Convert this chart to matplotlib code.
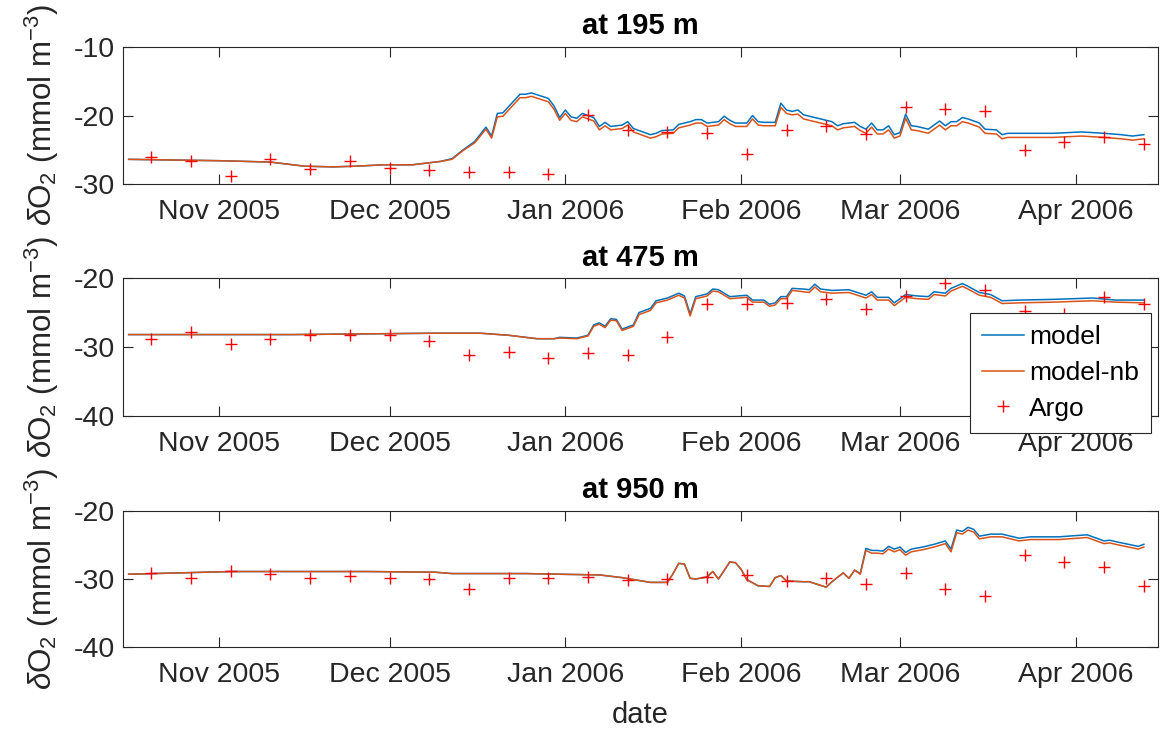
import numpy as np
import pandas as pd
import matplotlib
matplotlib.use("Agg")
import matplotlib.pyplot as plt
import matplotlib.dates as mdates

plt.rcParams['font.family'] = ['Liberation Sans', 'DejaVu Sans']
plt.rcParams['mathtext.fontset'] = 'custom'
plt.rcParams['mathtext.rm'] = 'Liberation Sans'
plt.rcParams['mathtext.it'] = 'Liberation Sans:italic'
plt.rcParams['axes.unicode_minus'] = False

# Argo float profiles (weekly)
argo_dates = ['2005-10-20', '2005-10-27', '2005-11-03', '2005-11-10', '2005-11-17', '2005-11-24',
              '2005-12-01', '2005-12-08', '2005-12-15', '2005-12-22', '2005-12-29', '2006-01-05',
              '2006-01-12', '2006-01-19', '2006-01-26', '2006-02-02', '2006-02-09', '2006-02-16',
              '2006-02-23', '2006-03-02', '2006-03-09', '2006-03-16', '2006-03-23', '2006-03-30',
              '2006-04-06', '2006-04-13']
argo_195 = [-26.1, -26.6, -28.8, -26.4, -27.8, -26.6, -27.6, -28.0, -28.3, -28.2, -28.5, -19.9,
            -22.1, -22.4, -22.5, -25.6, -22.1, -21.6, -22.7, -18.7, -19.1, -19.3, -25.0, -23.9,
            -23.2, -24.2]
argo_475 = [-28.9, -27.8, -29.6, -28.8, -28.3, -28.2, -28.3, -29.2, -31.2, -30.7, -31.6, -30.8,
            -31.2, -28.5, -23.8, -23.8, -23.6, -23.0, -24.5, -22.6, -20.7, -21.8, -24.8, -25.2,
            -22.7, -23.8]
argo_950 = [-29.1, -29.8, -28.8, -29.3, -29.9, -29.5, -29.8, -30.0, -31.4, -29.9, -29.8, -29.7,
            -30.2, -30.0, -29.7, -29.4, -30.3, -29.8, -30.7, -29.1, -31.5, -32.5, -26.5, -27.5,
            -28.3, -31.1]

# model output at 195 m
dates_195 = ['2005-10-16', '2005-11-01', '2005-11-10', '2005-11-16', '2005-11-21', '2005-11-25',
             '2005-11-30', '2005-12-05', '2005-12-08', '2005-12-10', '2005-12-12', '2005-12-14',
             '2005-12-16', '2005-12-18', '2005-12-19', '2005-12-20', '2005-12-21', '2005-12-22',
             '2005-12-24', '2005-12-25', '2005-12-26', '2005-12-29', '2005-12-30', '2005-12-31',
             '2006-01-01', '2006-01-02', '2006-01-03', '2006-01-04', '2006-01-06', '2006-01-07',
             '2006-01-08', '2006-01-09', '2006-01-11', '2006-01-12', '2006-01-13', '2006-01-16',
             '2006-01-17', '2006-01-18', '2006-01-20', '2006-01-21', '2006-01-23', '2006-01-24',
             '2006-01-25', '2006-01-26', '2006-01-28', '2006-01-29', '2006-01-30', '2006-01-31',
             '2006-02-02', '2006-02-03', '2006-02-04', '2006-02-05', '2006-02-07', '2006-02-08',
             '2006-02-09', '2006-02-10', '2006-02-11', '2006-02-12', '2006-02-14', '2006-02-16',
             '2006-02-17', '2006-02-18', '2006-02-19', '2006-02-21', '2006-02-22', '2006-02-23',
             '2006-02-24', '2006-02-25', '2006-02-26', '2006-02-27', '2006-02-28', '2006-03-01',
             '2006-03-02', '2006-03-03', '2006-03-04', '2006-03-06', '2006-03-07', '2006-03-08',
             '2006-03-09', '2006-03-10', '2006-03-11', '2006-03-12', '2006-03-13', '2006-03-15',
             '2006-03-16', '2006-03-18', '2006-03-19', '2006-03-20', '2006-03-28', '2006-04-02',
             '2006-04-06', '2006-04-09', '2006-04-11', '2006-04-13']
model_195 = [-26.4, -26.6, -26.8, -27.4, -27.5, -27.4, -27.2, -27.2, -26.9, -26.7, -26.3, -25.0,
             -23.8, -21.7, -23.0, -19.7, -19.6, -18.7, -16.9, -16.9, -16.7, -17.5, -18.6, -20.3,
             -19.2, -20.2, -20.4, -19.7, -20.3, -21.6, -21.0, -21.6, -21.4, -20.9, -21.9, -22.8,
             -22.6, -22.2, -22.1, -21.3, -20.9, -20.6, -20.6, -21.1, -20.9, -20.1, -20.7, -21.1,
             -21.1, -20.0, -20.9, -21.0, -21.0, -18.2, -19.2, -19.4, -19.2, -19.9, -20.3, -20.7,
             -20.9, -21.5, -21.2, -21.0, -21.6, -22.0, -21.1, -22.1, -22.1, -21.5, -22.8, -22.5,
             -19.8, -21.5, -21.6, -22.0, -21.4, -20.8, -21.5, -20.9, -20.9, -20.3, -20.5, -21.1,
             -22.0, -22.1, -22.8, -22.6, -22.6, -22.4, -22.6, -22.8, -23.0, -22.8]
nb_195 = [-26.4, -26.6, -26.8, -27.4, -27.5, -27.4, -27.2, -27.2, -26.9, -26.7, -26.4, -25.1,
          -24.0, -22.0, -23.3, -20.2, -20.1, -19.2, -17.4, -17.4, -17.2, -18.0, -19.1, -20.7,
          -19.7, -20.7, -20.9, -20.2, -20.8, -22.1, -21.5, -22.1, -21.9, -21.4, -22.4, -23.3,
          -23.1, -22.7, -22.6, -21.8, -21.4, -21.1, -21.1, -21.6, -21.4, -20.6, -21.2, -21.6,
          -21.6, -20.5, -21.4, -21.5, -21.5, -18.8, -19.7, -19.9, -19.8, -20.5, -20.9, -21.3,
          -21.5, -22.1, -21.8, -21.6, -22.2, -22.6, -21.7, -22.7, -22.7, -22.1, -23.3, -23.0,
          -20.4, -22.1, -22.2, -22.6, -22.0, -21.4, -22.1, -21.5, -21.5, -20.9, -21.1, -21.7,
          -22.6, -22.7, -23.4, -23.2, -23.2, -23.0, -23.2, -23.4, -23.6, -23.4]

# model output at 475 m
dates_475 = ['2005-10-16', '2005-11-14', '2005-12-09', '2005-12-17', '2005-12-22', '2005-12-27',
             '2005-12-30', '2005-12-31', '2006-01-03', '2006-01-05', '2006-01-06', '2006-01-07',
             '2006-01-08', '2006-01-09', '2006-01-10', '2006-01-11', '2006-01-13', '2006-01-14',
             '2006-01-16', '2006-01-17', '2006-01-19', '2006-01-21', '2006-01-22', '2006-01-23',
             '2006-01-24', '2006-01-26', '2006-01-27', '2006-01-28', '2006-01-30', '2006-02-02',
             '2006-02-03', '2006-02-05', '2006-02-06', '2006-02-07', '2006-02-08', '2006-02-09',
             '2006-02-10', '2006-02-12', '2006-02-13', '2006-02-14', '2006-02-15', '2006-02-17',
             '2006-02-20', '2006-02-23', '2006-02-24', '2006-02-25', '2006-02-27', '2006-02-28',
             '2006-03-02', '2006-03-04', '2006-03-06', '2006-03-07', '2006-03-09', '2006-03-10',
             '2006-03-12', '2006-03-13', '2006-03-15', '2006-03-17', '2006-03-19', '2006-03-22',
             '2006-03-28', '2006-04-04', '2006-04-08', '2006-04-13']
model_475 = [-28.2, -28.2, -28.0, -28.0, -28.3, -28.8, -28.8, -28.6, -28.7, -28.3, -26.8, -26.5,
             -27.0, -25.9, -26.0, -27.4, -26.8, -25.0, -24.4, -23.3, -22.9, -22.2, -22.6, -25.2,
             -22.7, -22.3, -21.6, -21.7, -22.7, -22.5, -23.2, -23.2, -23.8, -23.6, -22.7, -22.7,
             -21.5, -21.6, -21.7, -20.9, -21.6, -21.8, -21.7, -22.5, -22.0, -22.8, -22.8, -23.6,
             -22.4, -22.6, -22.7, -22.0, -22.2, -21.5, -20.8, -21.2, -22.1, -22.4, -23.3, -23.2,
             -23.1, -22.9, -23.2, -23.2]
nb_475 = [-28.2, -28.2, -28.0, -28.0, -28.3, -28.8, -28.8, -28.7, -28.8, -28.4, -27.0, -26.7,
          -27.2, -26.1, -26.2, -27.6, -27.0, -25.3, -24.7, -23.6, -23.2, -22.5, -22.9, -25.5,
          -23.0, -22.6, -21.9, -22.0, -23.0, -22.8, -23.5, -23.5, -24.1, -23.9, -23.0, -23.0,
          -21.8, -22.0, -22.1, -21.3, -22.0, -22.2, -22.1, -22.9, -22.4, -23.2, -23.2, -24.0,
          -22.8, -23.0, -23.1, -22.4, -22.6, -21.9, -21.2, -21.6, -22.5, -22.8, -23.7, -23.6,
          -23.5, -23.3, -23.5, -23.6]

# model output at 950 m
dates_950 = ['2005-10-16', '2005-11-03', '2005-11-27', '2005-12-09', '2005-12-12', '2005-12-25',
             '2005-12-31', '2006-01-07', '2006-01-11', '2006-01-16', '2006-01-19', '2006-01-20',
             '2006-01-21', '2006-01-22', '2006-01-23', '2006-01-24', '2006-01-26', '2006-01-27',
             '2006-01-28', '2006-01-30', '2006-01-31', '2006-02-01', '2006-02-02', '2006-02-04',
             '2006-02-06', '2006-02-07', '2006-02-08', '2006-02-09', '2006-02-12', '2006-02-13',
             '2006-02-16', '2006-02-17', '2006-02-19', '2006-02-20', '2006-02-21', '2006-02-22',
             '2006-02-23', '2006-02-24', '2006-02-25', '2006-02-26', '2006-02-27', '2006-02-28',
             '2006-03-01', '2006-03-02', '2006-03-03', '2006-03-05', '2006-03-07', '2006-03-09',
             '2006-03-10', '2006-03-11', '2006-03-12', '2006-03-13', '2006-03-14', '2006-03-15',
             '2006-03-17', '2006-03-19', '2006-03-22', '2006-03-24', '2006-03-29', '2006-04-03',
             '2006-04-04', '2006-04-06', '2006-04-07', '2006-04-08', '2006-04-12', '2006-04-13']
model_950 = [-29.3, -28.9, -28.9, -29.0, -29.2, -29.2, -29.3, -29.4, -29.8, -30.5, -30.5, -29.2,
             -27.7, -27.8, -29.9, -30.0, -29.7, -28.9, -30.0, -27.5, -27.6, -28.6, -30.1, -31.0,
             -31.1, -29.8, -29.5, -30.3, -30.4, -30.4, -31.2, -30.4, -29.1, -29.9, -28.7, -29.2,
             -25.5, -25.8, -25.8, -25.9, -25.2, -25.6, -25.3, -26.1, -25.6, -25.3, -24.9, -24.4,
             -25.6, -22.8, -23.0, -22.4, -22.7, -23.7, -23.4, -23.4, -24.0, -23.8, -23.8, -23.5,
             -23.8, -24.4, -24.3, -24.5, -25.2, -24.9]
nb_950 = [-29.3, -28.9, -28.9, -29.0, -29.2, -29.2, -29.3, -29.4, -29.8, -30.5, -30.5, -29.2,
          -27.7, -27.8, -29.9, -30.0, -29.7, -28.9, -30.0, -27.5, -27.6, -28.6, -30.1, -31.0,
          -31.1, -29.8, -29.5, -30.3, -30.4, -30.4, -31.2, -30.4, -29.1, -29.9, -28.7, -29.3,
          -25.8, -26.2, -26.2, -26.3, -25.6, -26.0, -25.7, -26.5, -26.0, -25.7, -25.3, -24.8,
          -26.0, -23.2, -23.4, -22.8, -23.1, -24.1, -23.8, -23.8, -24.4, -24.2, -24.2, -23.9,
          -24.2, -24.8, -24.7, -24.9, -25.6, -25.3]

depths = ['195', '475', '950']
ylims = [(-30, -10), (-40, -20), (-40, -20)]
yticks = [[-30, -20, -10], [-40, -30, -20], [-40, -30, -20]]

panels = [(dates_195, model_195, nb_195, argo_195),
          (dates_475, model_475, nb_475, argo_475),
          (dates_950, model_950, nb_950, argo_950)]

W, H = 1160, 732
boxes = [(47, 184), (278, 416), (511, 647)]  # top / bottom of each axes in pixels
x0, x1 = 123, 1158

fig = plt.figure(figsize=(W / 100, H / 100), dpi=100)
axcol = '#262626'
axs = []
for i, (top, bot) in enumerate(boxes):
    ax = fig.add_axes([x0 / W, 1 - bot / H, (x1 - x0) / W, (bot - top) / H])
    d, m, nb, ag = panels[i]
    ax.plot(pd.to_datetime(d), m, color='#0072BD', lw=1.1, label='model')
    ax.plot(pd.to_datetime(d), nb, color='#D95319', lw=1.1, label='model-nb')
    ax.plot(pd.to_datetime(argo_dates), ag, 'r+', ms=8, mew=1.0, label='Argo')

    ax.set_xlim(pd.Timestamp('2005-10-15'), pd.Timestamp('2006-04-15 12:00'))
    ax.set_ylim(*ylims[i])
    ax.set_yticks(yticks[i])
    ax.xaxis.set_major_locator(mdates.MonthLocator())
    ax.xaxis.set_major_formatter(mdates.DateFormatter('%b %Y'))
    ax.tick_params(direction='in', length=7, width=0.8, colors=axcol, labelsize=20.5,
                   top=True, right=True)
    ax.tick_params(axis='x', pad=11)
    ax.tick_params(axis='y', pad=6)
    for s in ax.spines.values():
        s.set_color(axcol)
        s.set_linewidth(0.8)
    ax.set_title('at %s m' % depths[i], fontsize=21, fontweight='bold', pad=9)
    ax.set_ylabel(r'$\delta$O$_2$ (mmol m$^{-3}$)', fontsize=22.5, color=axcol, labelpad=9)
    axs.append(ax)

axs[2].set_xlabel('date', fontsize=21, color=axcol, labelpad=9)

leg = axs[1].legend(loc='upper left', bbox_to_anchor=(970 / W, 1 - 313 / H),
                    bbox_transform=fig.transFigure, borderaxespad=0, fontsize=19,
                    frameon=True, fancybox=False, handlelength=1.6, handletextpad=0.2,
                    labelspacing=0.45, borderpad=0.45)
leg.get_frame().set_edgecolor(axcol)
leg.get_frame().set_linewidth(0.8)
leg.get_frame().set_alpha(1)

fig.savefig('out.png', dpi=100)
